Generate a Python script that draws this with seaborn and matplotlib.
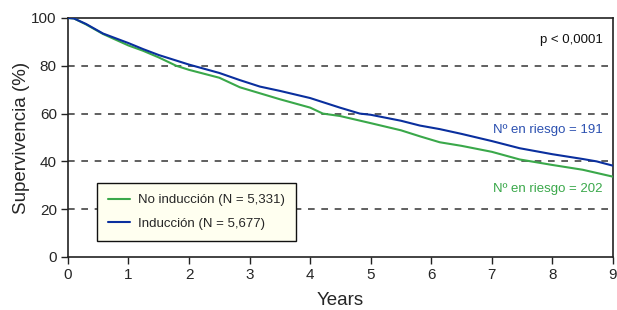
import pandas as pd
import matplotlib
matplotlib.use("Agg")
import matplotlib.pyplot as plt
import seaborn as sns

# Curvas de supervivencia
anios_ind = [0, 0.1, 0.3, 0.58, 1.0, 1.24, 1.5, 2.0, 2.5, 2.84, 3.17, 3.5, 4.0,
             4.49, 4.82, 5.0, 5.5, 5.81, 6.14, 6.5, 7.0, 7.46, 8.0, 8.5, 8.73, 9.0]
superv_ind = [100, 99.8, 97.5, 93.5, 89.5, 87.0, 84.5, 80.5, 77.0, 74.0, 71.3, 69.5, 66.5,
              62.5, 60.0, 59.5, 57.0, 55.0, 53.5, 51.5, 48.5, 45.5, 43.0, 41.0, 40.0, 38.2]

anios_no = [0, 0.1, 0.3, 0.58, 1.0, 1.24, 1.5, 1.79, 2.0, 2.5, 2.84, 3.17, 3.5, 4.0,
            4.21, 4.49, 5.0, 5.5, 5.81, 6.14, 6.5, 7.0, 7.46, 8.0, 8.5, 9.0]
superv_no = [100, 99.8, 97.3, 93.3, 88.5, 86.3, 83.5, 80.0, 78.3, 75.0, 71.0, 68.5, 66.0, 62.5,
             60.0, 59.0, 56.0, 53.0, 50.5, 48.0, 46.5, 44.0, 40.8, 38.5, 36.5, 33.6]

grupos = ["No inducción (N = 5,331)", "Inducción (N = 5,677)"]
colores = ["#3aa84a", "#0a2f9e"]

df = pd.concat([
    pd.DataFrame({"anio": anios_no, "superv": superv_no, "grupo": grupos[0]}),
    pd.DataFrame({"anio": anios_ind, "superv": superv_ind, "grupo": grupos[1]}),
])

sns.set_style("white")
plt.rcParams["font.family"] = ["Liberation Sans", "DejaVu Sans"]

fig = plt.figure(figsize=(6.17, 3.10), dpi=100)
ax = fig.add_axes([0.110, 0.171, 0.8835, 0.771])

# Lineas de referencia punteadas
for yv in [20, 40, 60, 80]:
    ax.axhline(yv, color="#444444", lw=1.2, ls=(0, (4, 4)), zorder=1)

sns.lineplot(data=df, x="anio", y="superv", hue="grupo", hue_order=grupos,
             palette=colores, lw=1.5, ax=ax, zorder=3)

ax.set_xlim(0, 9)
ax.set_ylim(0, 100)
ax.set_xticks(range(0, 10))
ax.set_yticks(range(0, 101, 20))
ax.tick_params(axis="both", direction="out", length=5, width=1, labelsize=11,
               bottom=True, left=True, color="#222222", pad=3)
for s in ax.spines.values():
    s.set_color("#222222")
    s.set_linewidth(1.2)

ax.set_xlabel("Years", fontsize=13.5, labelpad=7)
ax.set_ylabel("Supervivencia (%)", fontsize=13.5, labelpad=1)

ax.text(8.83, 90.8, "p < 0,0001", ha="right", va="center", fontsize=9.5, color="#111111")
ax.text(8.83, 53, "Nº en riesgo = 191", ha="right", va="center", fontsize=9.5, color="#2b50b0")
ax.text(8.83, 28.5, "Nº en riesgo = 202", ha="right", va="center", fontsize=9.5, color="#3aa84a")

leg = ax.legend(loc="lower left", bbox_to_anchor=(0.053, 0.067), borderaxespad=0,
                fontsize=9.5, frameon=True, fancybox=False, handlelength=1.7,
                handletextpad=0.6, borderpad=0.85, labelspacing=0.85, title=None)
leg.get_frame().set_facecolor("#fffff0")
leg.get_frame().set_edgecolor("#111111")
leg.get_frame().set_linewidth(1.0)
leg.get_frame().set_alpha(1)

fig.savefig("out.png", dpi=100)
